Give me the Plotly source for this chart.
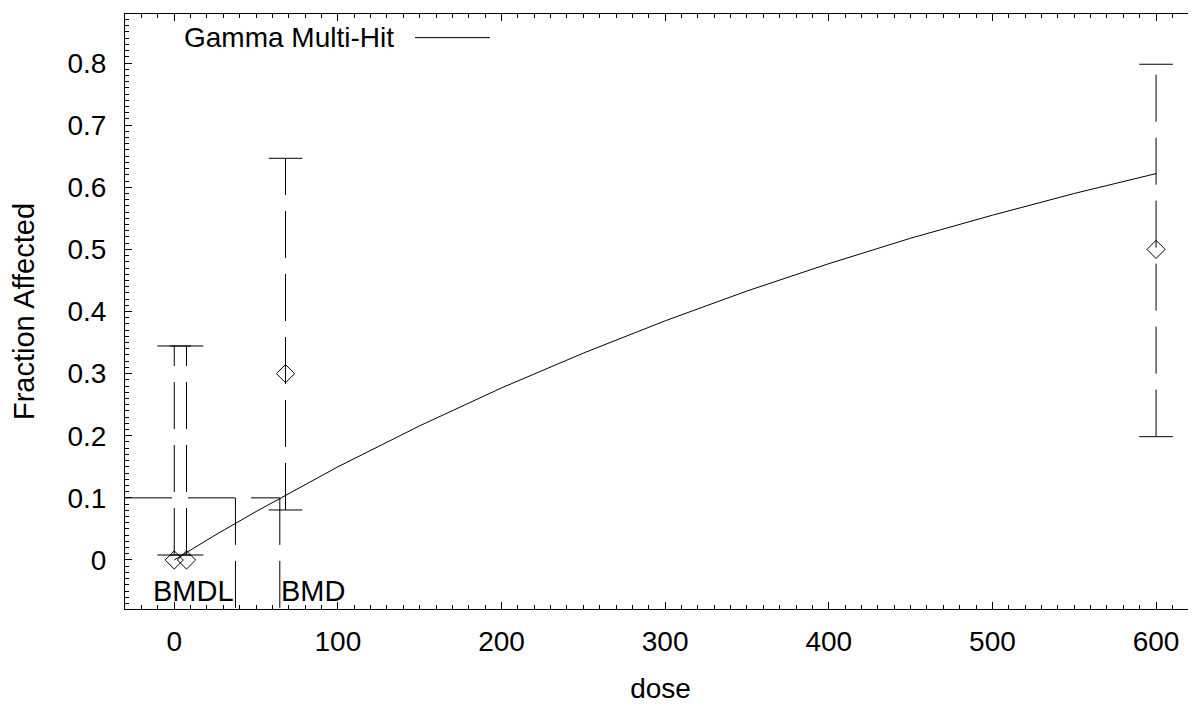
import plotly.graph_objects as go

# ---- data ----
dose = [0, 7.5, 68, 600]
frac = [0.0, 0.0, 0.30, 0.50]
err_lo = [0.008, 0.008, 0.0805, 0.1985]
err_hi = [0.3445, 0.3445, 0.6466, 0.798]

curve_dose = [0, 25, 50, 75, 100, 150, 200, 250, 300, 350, 400, 450, 500, 550, 600]
curve_frac = [0.0, 0.040, 0.078, 0.114, 0.150, 0.216, 0.277, 0.333, 0.385, 0.433,
              0.477, 0.518, 0.555, 0.590, 0.622]

bmr = 0.1
bmd = 64.5
bmdl = 37.4

x_range = [-30.1, 624.4]
y_range = [-0.0789, 0.8789]
x_ticks = [0, 100, 200, 300, 400, 500, 600]
y_ticks = [0, 0.1, 0.2, 0.3, 0.4, 0.5, 0.6, 0.7, 0.8]
y_ticktext = ["0", "0.1", "0.2", "0.3", "0.4", "0.5", "0.6", "0.7", "0.8"]

FONT = "Liberation Sans, Arial, sans-serif"
DASH = "47px,16px"

fig = go.Figure()

# fitted curve
fig.add_trace(go.Scatter(x=curve_dose, y=curve_frac, mode="lines",
                         line=dict(color="black", width=1), showlegend=False))

# dashed error bars (drawn from lower to upper limit)
for d, lo, hi in zip(dose, err_lo, err_hi):
    fig.add_trace(go.Scatter(x=[d, d], y=[lo, hi], mode="lines",
                             line=dict(color="black", width=1, dash=DASH),
                             showlegend=False))

# caps
fig.add_trace(go.Scatter(x=dose + dose, y=err_lo + err_hi, mode="markers",
                         marker=dict(symbol="line-ew", size=24,
                                     line=dict(color="black", width=1)),
                         showlegend=False))

# observed points
fig.add_trace(go.Scatter(x=dose, y=frac, mode="markers",
                         marker=dict(symbol="diamond-open", size=14, color="black",
                                     line=dict(color="black", width=1)),
                         showlegend=False))

# BMD / BMDL lines
fig.add_trace(go.Scatter(x=[x_range[0], bmd], y=[bmr, bmr], mode="lines",
                         line=dict(color="black", width=1, dash=DASH), showlegend=False))
fig.add_trace(go.Scatter(x=[bmd, bmd], y=[bmr, y_range[0]], mode="lines",
                         line=dict(color="black", width=1, dash=DASH), showlegend=False))
fig.add_trace(go.Scatter(x=[bmdl, bmdl], y=[bmr, y_range[0]], mode="lines",
                         line=dict(color="black", width=1, dash=DASH), showlegend=False))

fig.add_annotation(x=bmdl, y=y_range[0], xref="x", yref="y", text="BMDL",
                   showarrow=False, xanchor="right", yanchor="bottom", yshift=1,
                   font=dict(family=FONT, size=29, color="black"), borderpad=0)
fig.add_annotation(x=bmd, y=y_range[0], xref="x", yref="y", text="BMD",
                   showarrow=False, xanchor="left", yanchor="bottom", yshift=1,
                   font=dict(family=FONT, size=29, color="black"), borderpad=0)

# legend (text with line sample on its right)
fig.add_annotation(x=0.0542, y=0.9597, xref="paper", yref="paper", text="Gamma Multi-Hit",
                   showarrow=False, xanchor="left", yanchor="middle",
                   font=dict(family=FONT, size=28, color="black"), borderpad=0)
fig.add_shape(type="line", xref="paper", yref="paper", x0=0.2708, x1=0.3408,
              y0=0.9603, y1=0.9603, line=dict(color="black", width=1))

axis_common = dict(showgrid=False, zeroline=False, showline=True, linecolor="black",
                   linewidth=1, ticks="inside", ticklen=7, tickcolor="black",
                   automargin=False,
                   tickfont=dict(family=FONT, size=28, color="black"))

fig.update_xaxes(range=x_range, tickvals=x_ticks, mirror="ticks",
                 minor=dict(dtick=10, tick0=0, ticks="inside", ticklen=4, tickcolor="black"),
                 title=dict(text="dose", font=dict(family=FONT, size=28, color="black"),
                            standoff=22),
                 ticklabelstandoff=7, **axis_common)
fig.update_yaxes(range=y_range, tickvals=y_ticks, ticktext=y_ticktext, mirror=False,
                 minor=dict(dtick=0.01, tick0=0, ticks="inside", ticklen=4, tickcolor="black"),
                 title=dict(text="Fraction Affected",
                            font=dict(family=FONT, size=29, color="black"), standoff=29),
                 ticklabelstandoff=12, **axis_common)

# page body has an 8px margin, so the figure is 8px smaller than the window
fig.update_layout(width=1188, height=697, margin=dict(l=117, r=0, t=6, b=96),
                  plot_bgcolor="white", paper_bgcolor="white",
                  font=dict(family=FONT, color="black"), showlegend=False)

fig.write_html("out.html")
